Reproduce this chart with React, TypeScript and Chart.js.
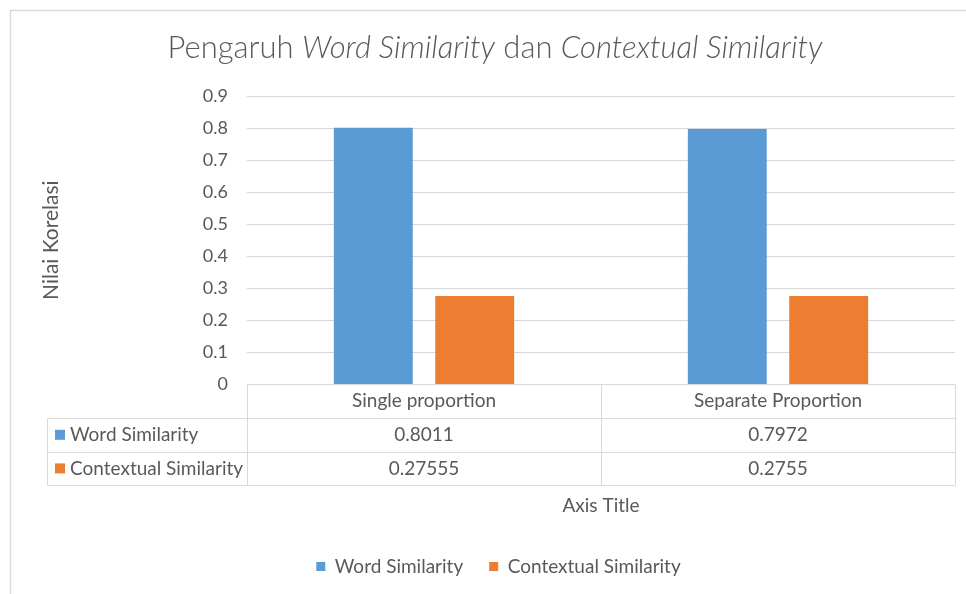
import React, { useEffect, useRef } from "react";
import { Chart, registerables } from "chart.js";

Chart.register(...registerables);

const categories = ["Single proportion", "Separate Proportion"];
const seriesNames = ["Word Similarity", "Contextual Similarity"];
const wordSimilarity = [0.8011, 0.7972];
const contextualSimilarity = [0.27555, 0.2755];
const seriesColors = ["#5B9BD5", "#ED7D31"];
const yMin = 0;
const yMax = 0.9;
const yStep = 0.1;
const titleParts = [
  { text: "Pengaruh ", italic: false },
  { text: "Word Similarity", italic: true },
  { text: " dan ", italic: false },
  { text: "Contextual Similarity", italic: true },
];
const yAxisTitle = "Nilai Korelasi";
const xAxisTitle = "Axis Title";

const TEXT = "#595959";
const LINE = "#d9d9d9";
const FONT = "Lato, 'Open Sans', sans-serif";

const framePlugin = {
  id: "frame",
  beforeDraw(chart: any, _a: any, o: any) {
    const { ctx, width, height } = chart;
    ctx.save();
    ctx.fillStyle = "#ffffff";
    ctx.fillRect(0, 0, width, height);
    ctx.strokeStyle = o.color;
    ctx.lineWidth = o.lineWidth;
    ctx.beginPath();
    ctx.moveTo(o.x, height);
    ctx.lineTo(o.x, o.y);
    ctx.lineTo(width, o.y);
    ctx.stroke();
    ctx.restore();
  },
};

const mixedTitlePlugin = {
  id: "mixedTitle",
  afterDraw(chart: any, _a: any, o: any) {
    const { ctx } = chart;
    ctx.save();
    ctx.fillStyle = o.color;
    ctx.textBaseline = "middle";
    ctx.textAlign = "left";
    const fontFor = (it: boolean) =>
      `${it ? "italic " : ""}${o.weight} ${o.size}px ${FONT}`;
    let total = 0;
    const widths = o.parts.map((p: any) => {
      ctx.font = fontFor(p.italic);
      const w = ctx.measureText(p.text).width;
      total += w;
      return w;
    });
    let x = o.centerX - total / 2;
    o.parts.forEach((p: any, i: number) => {
      ctx.font = fontFor(p.italic);
      ctx.fillText(p.text, x, o.centerY);
      x += widths[i];
    });
    ctx.restore();
  },
};

const dataTablePlugin = {
  id: "dataTable",
  afterDraw(chart: any, _a: any, o: any) {
    const { ctx, chartArea } = chart;
    const xs = chart.scales.x;
    const labels = chart.data.labels as string[];
    const datasets = chart.data.datasets;
    const n = labels.length;
    const top = chartArea.bottom;
    const rowH = o.rowHeight;
    const tableLeft = chartArea.left - o.labelColumnWidth;
    const right = chartArea.right;
    const centers = labels.map((_: any, i: number) => xs.getPixelForValue(i));
    const step = n > 1 ? centers[1] - centers[0] : right - chartArea.left;
    const bounds = [chartArea.left, ...centers.map((c: number) => c + step / 2)];
    const rows = datasets.length + 1;
    const bottom = top + rowH * rows;
    const p = (v: number) => Math.round(v) + 0.5;

    ctx.save();
    ctx.strokeStyle = o.lineColor;
    ctx.lineWidth = o.lineWidth;
    ctx.beginPath();
    ctx.moveTo(chartArea.left, p(top));
    ctx.lineTo(right, p(top));
    for (let r = 1; r <= rows; r++) {
      const y = p(top + rowH * r);
      ctx.moveTo(tableLeft, y);
      ctx.lineTo(right, y);
    }
    ctx.moveTo(p(tableLeft), top + rowH);
    ctx.lineTo(p(tableLeft), bottom);
    bounds.forEach((b: number) => {
      ctx.moveTo(p(b), top);
      ctx.lineTo(p(b), bottom);
    });
    ctx.stroke();

    ctx.font = `${o.fontSize}px ${FONT}`;
    ctx.textBaseline = "middle";
    datasets.forEach((ds: any, r: number) => {
      const cy = top + rowH * (r + 1.5);
      ctx.fillStyle = ds.backgroundColor;
      ctx.fillRect(tableLeft + o.keyOffset, cy - o.keySize / 2, o.keySize, o.keySize);
      ctx.fillStyle = o.color;
      ctx.textAlign = "left";
      ctx.fillText(ds.label, tableLeft + o.textOffset, cy);
      ctx.textAlign = "center";
      ds.data.forEach((v: number, i: number) => {
        ctx.fillText(String(v), centers[i], cy);
      });
    });
    ctx.restore();
  },
};

export default function App() {
  const ref = useRef<HTMLCanvasElement | null>(null);

  useEffect(() => {
    document.body.style.margin = "0";
    if (!ref.current) return;
    const chart = new Chart(ref.current, {
      type: "bar",
      data: {
        labels: categories,
        datasets: [
          {
            label: seriesNames[0],
            data: wordSimilarity,
            backgroundColor: seriesColors[0],
            borderWidth: 0,
            barPercentage: 0.778,
            categoryPercentage: 0.573,
          },
          {
            label: seriesNames[1],
            data: contextualSimilarity,
            backgroundColor: seriesColors[1],
            borderWidth: 0,
            barPercentage: 0.778,
            categoryPercentage: 0.573,
          },
        ],
      },
      options: {
        animation: false,
        responsive: false,
        layout: { padding: { left: 42, right: 11, top: 96, bottom: 8 } },
        plugins: {
          legend: {
            position: "bottom",
            labels: {
              boxWidth: 9,
              boxHeight: 9,
              padding: 26,
              color: TEXT,
              font: { family: FONT, size: 19 },
            },
          },
          title: { display: false },
          tooltip: { enabled: false },
          frame: { x: 10.5, y: 10.5, color: LINE, lineWidth: 1.5 },
          mixedTitle: {
            parts: titleParts,
            centerX: 495,
            centerY: 48,
            size: 31,
            weight: 300,
            color: TEXT,
          },
          dataTable: {
            rowHeight: 33.6,
            labelColumnWidth: 200,
            lineColor: LINE,
            lineWidth: 1,
            fontSize: 19,
            color: TEXT,
            keyOffset: 8,
            keySize: 10,
            textOffset: 23,
          },
        } as any,
        scales: {
          x: {
            grid: { display: false, drawTicks: false },
            border: { display: false },
            ticks: { padding: 5, color: TEXT, font: { family: FONT, size: 19 } },
            title: {
              display: true,
              text: xAxisTitle,
              color: TEXT,
              font: { family: FONT, size: 19 },
              padding: { top: 77, bottom: 14 },
            },
          },
          y: {
            min: yMin,
            max: yMax,
            ticks: {
              stepSize: yStep,
              padding: 19,
              color: TEXT,
              font: { family: FONT, size: 18 },
            },
            grid: { color: LINE, drawTicks: false },
            border: { display: false },
            title: {
              display: true,
              text: yAxisTitle,
              color: TEXT,
              font: { family: FONT, size: 21 },
              padding: { top: -3, bottom: 0 },
            },
            afterFit(scale: any) {
              scale.width = 205;
            },
          },
        },
      },
      plugins: [framePlugin, mixedTitlePlugin, dataTablePlugin],
    });
    return () => chart.destroy();
  }, []);

  return <canvas ref={ref} width={966} height={594} style={{ display: "block" }} />;
}
